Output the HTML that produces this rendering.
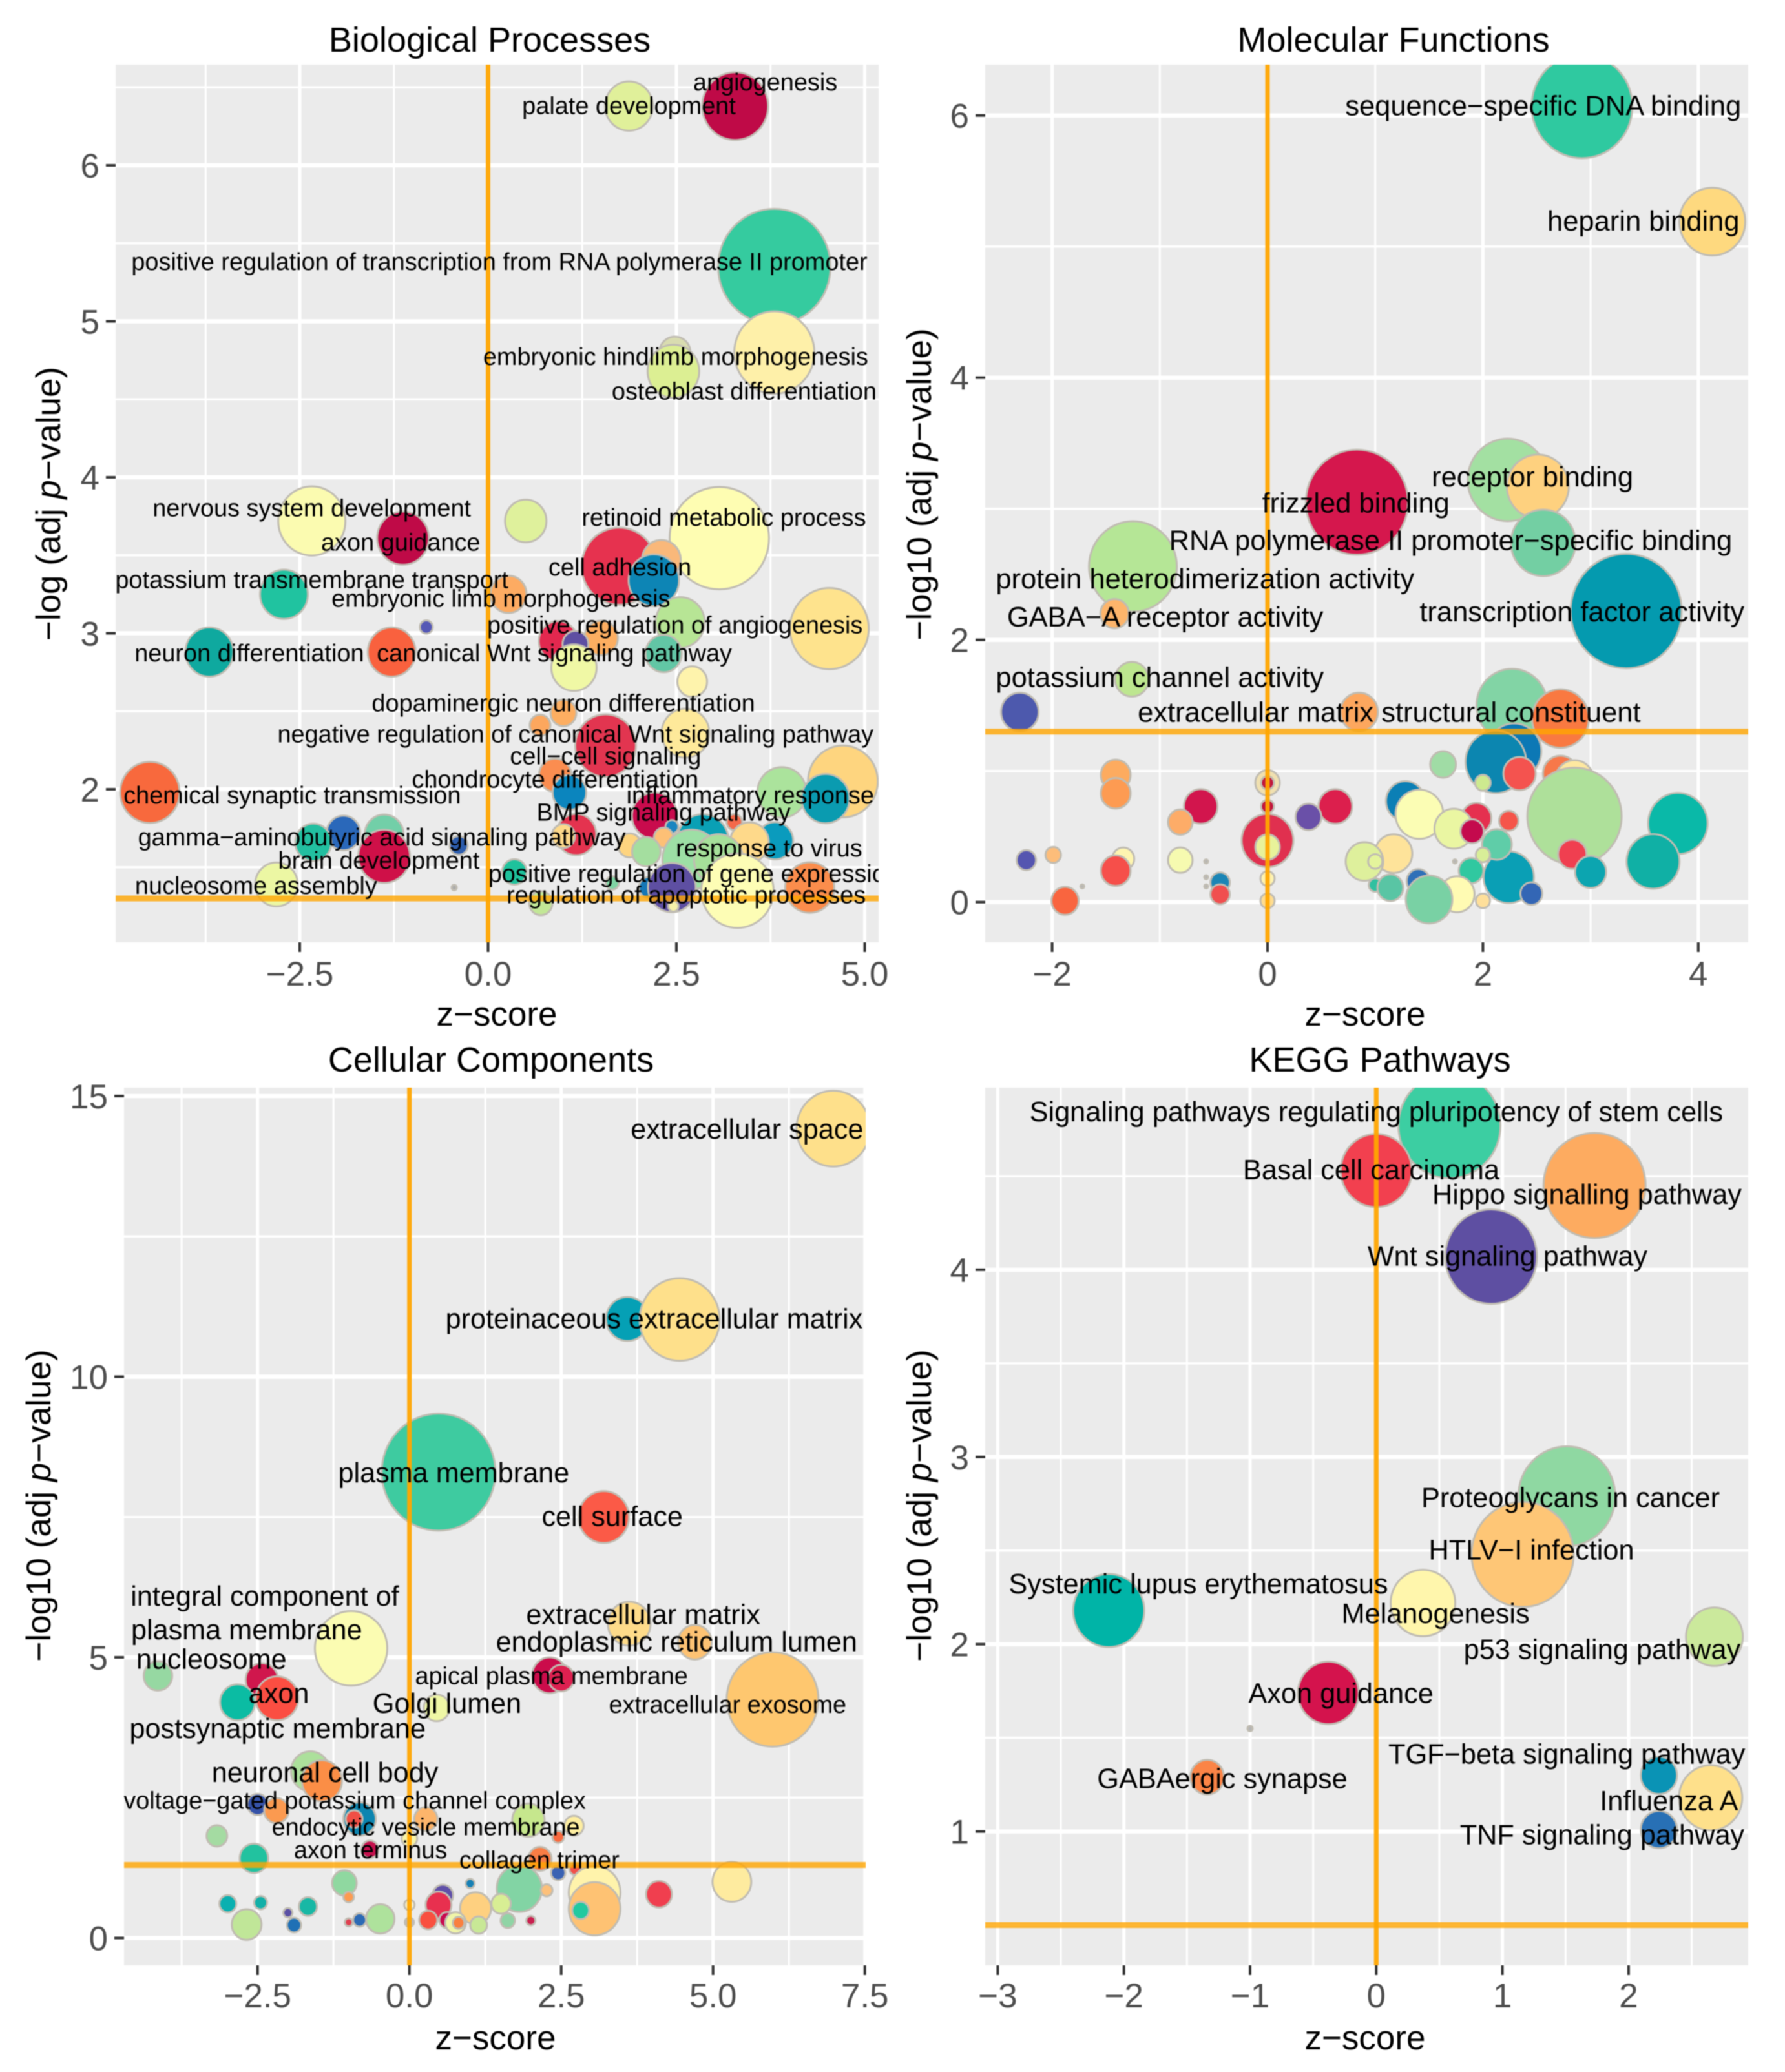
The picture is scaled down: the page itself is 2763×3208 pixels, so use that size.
<!DOCTYPE html>
<html lang="en">
<head>
<meta charset="utf-8">
<title>Enrichment bubble charts</title>
<style>
html,body{margin:0;padding:0;background:#fff;}
svg{display:block;font-family:"Liberation Sans",Arial,sans-serif;filter:blur(0.9px);}
.title{font-size:54px;fill:#000;text-anchor:middle;}
.axis-title{font-size:53px;fill:#000;text-anchor:middle;}
.tick-label{font-size:53px;fill:#4d4d4d;}
.bubble-label{fill:#000;text-anchor:middle;}
</style>
</head>
<body>
<svg id="chart" xmlns="http://www.w3.org/2000/svg" width="2763" height="3208" viewBox="0 0 2763 3208">
  <rect x="0" y="0" width="2763" height="3208" fill="#ffffff"/>
  <g id="panels"></g>
  <text class="title" x="758" y="80">Biological Processes</text>
  <text class="title" x="2157" y="80">Molecular Functions</text>
  <text class="title" x="760" y="1659">Cellular Components</text>
  <text class="title" x="2136" y="1659">KEGG Pathways</text>
  <text class="axis-title" x="769" y="1588">z−score</text>
  <text class="axis-title" x="2113" y="1588">z−score</text>
  <text class="axis-title" x="767" y="3173">z−score</text>
  <text class="axis-title" x="2113" y="3173">z−score</text>
  <text class="axis-title" transform="translate(93 780) rotate(-90)">−log (adj <tspan font-style="italic">p</tspan>−value)</text>
  <text class="axis-title" transform="translate(1441 750) rotate(-90)">−log10 (adj <tspan font-style="italic">p</tspan>−value)</text>
  <text class="axis-title" transform="translate(78 2331) rotate(-90)">−log10 (adj <tspan font-style="italic">p</tspan>−value)</text>
  <text class="axis-title" transform="translate(1441 2331) rotate(-90)">−log10 (adj <tspan font-style="italic">p</tspan>−value)</text>
</svg>
<script>
// ---------- Biological Processes ----------
const bpZ = [3.80,3.80,2.48,2.46,1.87,3.28,-2.34,-1.13,0.50,3.07,
  1.74,2.30,2.20,-2.71,0.27,2.55,-0.82,-3.70,-1.28,4.53,
  0.93,1.50,1.16,1.14,2.33,2.71,1.00,0.69,2.62,1.56,
  0.89,1.08,4.71,3.90,4.48,-4.49,2.85,3.81,3.27,3.47,
  2.21,2.44,2.33,1.88,2.10,2.76,2.70,3.06,3.31,4.27,
  2.14,2.44,2.46,1.65,0.70,0.35,-0.45,-2.81,-1.38,-1.38,
  -1.92,-2.32,-0.39,1.17,1.00];
const bpP = [5.35,4.80,4.80,4.68,6.38,6.38,3.72,3.61,3.72,3.61,
  3.43,3.47,3.34,3.25,3.25,3.07,3.04,2.88,2.88,3.03,
  2.95,2.97,2.93,2.78,2.87,2.69,2.49,2.41,2.36,2.28,
  2.09,1.98,2.05,1.98,1.94,1.98,1.67,1.67,1.79,1.66,
  1.83,1.76,1.69,1.64,1.60,1.52,1.55,1.55,1.35,1.37,
  1.37,1.37,1.25,1.40,1.27,1.47,1.37,1.39,1.71,1.57,
  1.72,1.66,1.64,1.71,1.70];
const bpCount = [87,62,24,40,37,51,52,40,32,77,
  58,30,39,37,28,38,10,37,37,61,
  30,26,20,35,28,23,20,16,37,47,
  25,26,54,38,37,46,40,28,12,30,
  35,10,15,18,22,25,45,38,56,38,
  16,37,8,10,18,19,4,33,30,40,
  26,28,14,31,18];
const bpFill = ["#35cb9f","#fef0a9","#d9dcb0","#dcef93","#e0f09a","#bf0a47","#fbfbb0","#bf0a47","#dff19c","#fefdb2",
  "#e6324f","#f9b87a","#0d85b5","#20c3a0","#fdab62","#b7e595","#5558b5","#0fa99f","#f9613e","#fee38d",
  "#e3284f","#fdae61","#5e4fa2","#f0f8a5","#62c6a5","#fef3ac","#fdae61","#fca75e","#fee99a","#e23550",
  "#fb8d50","#0b85be","#fed57f","#abe39c","#0a9bb0","#f8693d","#0aa0b5","#0a9bbd","#f4694a","#fed98a",
  "#c90b4d","#1b85c0","#fdc076","#fed47f","#a4de9f","#fdc276","#9ddfa5","#a6e09a","#fdfdb5","#fb8d4c",
  "#1577b5","#5e4fa2","#f6f2a8","#7fd4a3","#c2e796","#1ec29c","#aaaaaa","#ecf7a3","#72cfa8","#cf1048",
  "#2a68ba","#22bfa0","#2d5dad","#e4334f","#fed98a"];
const bpLabels = ["angiogenesis","palate development","positive regulation of transcription from RNA polymerase II promoter","embryonic hindlimb morphogenesis","osteoblast differentiation","nervous system development","retinoid metabolic process","axon guidance","cell adhesion","potassium transmembrane transport","embryonic limb morphogenesis","positive regulation of angiogenesis","neuron differentiation","canonical Wnt signaling pathway","dopaminergic neuron differentiation","negative regulation of canonical Wnt signaling pathway","cell−cell signaling","chondrocyte differentiation","chemical synaptic transmission","inflammatory response","BMP signaling pathway","gamma−aminobutyric acid signaling pathway","response to virus","brain development","positive regulation of gene expression","nucleosome assembly","regulation of apoptotic processes"];
const bpLabelZ = [3.68,1.87,0.15,2.49,3.40,-2.34,3.13,-1.16,1.75,-2.34,0.17,2.48,-3.17,0.88,1.00,1.16,1.56,0.89,-2.60,3.48,2.33,-1.41,3.73,-1.45,2.73,-3.08,2.63];
const bpLabelP = [6.53,6.38,5.38,4.77,4.55,3.80,3.74,3.58,3.42,3.34,3.22,3.05,2.87,2.87,2.55,2.35,2.21,2.06,1.96,1.96,1.85,1.69,1.62,1.54,1.455,1.38,1.32];
const bpLabelPt = [37.9,37.9,37.9,37.9,37.9,37.9,37.9,37.9,37.9,37.9,37.9,37.9,37.9,37.9,37.9,37.9,37.9,37.9,37.9,37.9,37.9,37.9,37.9,37.9,37.9,37.9,37.9];
const bpXTicks = [-2.5,0,2.5,5];
const bpXTickText = ["−2.5","0.0","2.5","5.0"];
const bpXMinor = [-3.75,-1.25,1.25,3.75];
const bpYTicks = [2,3,4,5,6];
const bpYTickText = ["2","3","4","5","6"];
const bpYMinor = [1.5,2.5,3.5,4.5,5.5,6.5];
const bpHLine = 1.3;

// ---------- Molecular Functions ----------
const mfZ = [2.92,4.13,2.23,2.51,2.56,0.83,-1.25,-1.42,3.33,-1.26,
  -2.30,0.85,2.27,2.29,2.12,2.72,1.63,2.72,2.85,2.34,
  2.00,2.85,3.81,3.58,2.83,3.00,2.24,2.45,2.00,2.13,
  2.00,1.89,1.28,1.41,1.94,1.73,1.90,2.24,1.17,0.90,
  1.00,1.40,1.00,1.14,1.76,1.50,-0.62,-0.81,0.63,0.38,
  -1.41,-1.41,0,0,0,0,0,0,0,-2.24,
  -1.99,-1.34,-1.41,-0.81,-0.57,-0.57,-0.57,-1.72,1.74,-0.44,-0.44,-1.88];
const mfP = [6.07,5.19,3.22,3.17,2.74,3.05,2.56,2.20,2.22,1.70,
  1.45,1.45,1.50,1.15,1.07,1.40,1.05,0.98,0.93,0.98,
  0.91,0.655,0.60,0.31,0.365,0.23,0.19,0.065,0.01,0.44,
  0.36,0.24,0.77,0.67,0.64,0.56,0.54,0.62,0.37,0.31,
  0.31,0.16,0.13,0.11,0.06,0.02,0.73,0.61,0.73,0.65,
  0.97,0.83,0.91,0.91,0.73,0.47,0.42,0.18,0.01,0.32,
  0.36,0.33,0.24,0.32,0.31,0.19,0.12,0.12,0.31,0.15,0.06,0.01];
const mfCount = [78,51,62,48,50,79,68,22,86,26,
  29,29,55,42,47,44,20,27,30,25,
  12,73,46,41,22,24,39,17,11,23,
  11,19,30,37,23,30,18,15,29,29,
  11,18,10,20,27,36,26,19,26,20,
  23,23,19,10,10,40,19,11,11,15,
  12,17,23,19,3,3,3,3,3,15,15,21];
const mfFill = ["#2fc9a0","#fed97f","#a3e0a2","#fed17f","#73cfa3","#d5174d","#b5e696","#fdb56b","#049aaf","#bde68f",
  "#4d59ad","#fda75e","#82d4a5","#0c78b5","#0c86b0","#f97941","#a0dca5","#f7784a","#fee8a0","#f4534f",
  "#cdea8f","#aee09a","#0ab9a8","#10b0a5","#f03f50","#0ca5b0","#0a9fb5","#3366b5","#fedf9a","#5fcda8",
  "#d8ee98","#30c8a0","#0b7fb5","#fbfdb4","#e5304f","#eaf6a2","#c40a4d","#f5554a","#fee39a","#def09c",
  "#e4f49c","#2f70b8","#30c0a0","#59c5a4","#fffbb3","#79d1a4","#d2154d","#fdac68","#dc1f4d","#6a50a8",
  "#fdab5f","#fd9b52","#f0e0b0","#c0143c","#c0143c","#e0304f","#e8f29a","#fef2b0","#fedc90","#5555b0",
  "#fdbd7a","#fef5b0","#f64f4a","#f6fab0","#b5b5b5","#b5b5b5","#b5b5b5","#b5b5b5","#b5b5b5","#1b85b5","#f04f4f","#f9653f"];
const mfLabels = ["sequence−specific DNA binding","heparin binding","receptor binding","frizzled binding","RNA polymerase II promoter−specific binding","protein heterodimerization activity","GABA−A receptor activity","transcription factor activity","potassium channel activity","extracellular matrix structural constituent"];
const mfLabelZ = [2.56,3.49,2.46,0.82,1.70,-0.58,-0.95,2.92,-1.00,1.13];
const mfLabelP = [6.07,5.19,3.24,3.04,2.755,2.46,2.17,2.21,1.71,1.445];
const mfLabelPt = [43.5,43.5,43.5,43.5,43.5,43.5,43.5,43.5,43.5,43.5];
const mfXTicks = [-2,0,2,4];
const mfXTickText = ["−2","0","2","4"];
const mfXMinor = [-1,1,3];
const mfYTicks = [0,2,4,6];
const mfYTickText = ["0","2","4","6"];
const mfYMinor = [1,3,5];
const mfHLine = 1.3;

// ---------- Cellular Components ----------
const ccZ = [6.98,3.59,4.45,0.48,3.20,-0.96,3.62,4.70,5.98,2.31,
  2.50,-4.14,-2.43,-2.18,-2.83,0.45,-1.63,-1.44,-2.50,-2.19,
  -0.82,-0.91,0.27,1.96,2.71,2.45,-3.17,0,-0.65,-2.56,
  2.15,2.45,2.73,3.05,3.05,2.82,5.31,4.11,1.81,2.26,
  1.51,1.09,0.55,0.48,0.31,0.62,0.76,0.81,1.14,1.62,
  2.00,0,0,-1.07,-1.00,-0.48,-2.99,-2.45,-1.67,-2.00,
  -1.90,-2.68,-1.00,-0.82,1.00];
const ccP = [14.42,11.03,11.02,8.30,7.50,5.16,5.60,5.27,4.25,4.68,
  4.63,4.67,4.60,4.27,4.20,4.10,2.97,2.80,2.38,2.27,
  2.12,2.12,2.12,2.10,2.00,1.80,1.82,1.77,1.58,1.42,
  1.41,1.16,1.23,0.81,0.52,0.49,1.00,0.78,0.88,0.85,
  0.61,0.53,0.76,0.59,0.32,0.32,0.27,0.27,0.23,0.31,
  0.31,0.59,0.28,0.98,0.73,0.34,0.61,0.63,0.56,0.45,
  0.23,0.24,0.28,0.32,0.97];
const ccCount = [57,33,62,88,39,56,33,26,71,27,
  20,22,25,33,27,20,30,31,16,19,
  25,13,18,25,15,9,16,12,13,22,
  18,11,9,40,40,13,30,20,35,9,
  15,24,16,20,14,12,16,9,13,11,
  7,8,7,19,8,22,13,10,14,7,
  11,23,6,10,7];
const ccFill = ["#fee08b","#05a0b5","#fee08b","#3ecba0","#fb5a47","#fbfcb2","#fedb8a","#fdc273","#fec76f","#cb0c4b",
  "#dd2050","#96d8a2","#d0174d","#fb4e42","#0bbca3","#eff7a5","#ace09b","#fb8e46","#3552a8","#fb9a50",
  "#0c85b0","#f04f45","#fdb56b","#c6e78d","#feeea0","#f96a3f","#a4dba2","#f8f4a8","#c4104c","#22c29f",
  "#f97d45","#3a62b3","#f0504a","#fff3ab","#fec273","#22c9a0","#feeb9f","#f03f4f","#82d4a4","#fdc07a",
  "#d8ee94","#fed080","#6050a8","#e8304f","#f9503f","#c80a4f","#f0f5a8","#f98040","#c8e896","#8fd4a5",
  "#c92050","#f5f0d0","#bbb8c0","#8fd8a0","#fd9a50","#aee29c","#0ab0b0","#12b0a8","#18b8a5","#5a50a5",
  "#2070b5","#c0e698","#e04050","#2c6ab5","#1680b5"];
const ccLabels = ["extracellular space","proteinaceous extracellular matrix","plasma membrane","cell surface","integral component of","plasma membrane","nucleosome","extracellular matrix","endoplasmic reticulum lumen","apical plasma membrane","axon","Golgi lumen","extracellular exosome","postsynaptic membrane","neuronal cell body","voltage−gated potassium channel complex","endocytic vesicle membrane","axon terminus","collagen trimer"];
const ccLabelZ = [5.56,4.03,0.73,3.34,-2.38,-2.68,-3.26,3.85,4.40,2.34,-2.15,0.62,5.24,-2.17,-1.39,-0.90,0.27,-0.64,2.14];
const ccLabelP = [14.40,11.02,8.28,7.50,6.08,5.48,4.96,5.75,5.27,4.66,4.35,4.17,4.15,3.72,2.94,2.44,1.97,1.56,1.38];
const ccLabelPt = [43.2,43.2,43.2,43.2,43.2,43.2,43.2,43.2,43.2,37.8,43.2,43.2,37.8,43.2,43.2,37.8,37.8,37.8,37.8];
const ccXTicks = [-2.5,0,2.5,5,7.5];
const ccXTickText = ["−2.5","0.0","2.5","5.0","7.5"];
const ccXMinor = [-3.75,-1.25,1.25,3.75,6.25];
const ccYTicks = [0,5,10,15];
const ccYTickText = ["0","5","10","15"];
const ccYMinor = [2.5,7.5,12.5];
const ccHLine = 1.3;

// ---------- KEGG Pathways ----------
const kgZ = [0.58,0,1.73,0.91,1.51,1.16,-2.12,0.37,2.68,-0.38,-1,-1.34,2.24,2.65,2.24];
const kgP = [4.77,4.53,4.45,4.07,2.79,2.48,2.18,2.22,2.04,1.74,1.55,1.29,1.30,1.18,1.01];
const kgCount = [79,55,79,71,75,79,55,50,44,47,4,26,28,49,28];
const kgFill = ["#3ccea2","#f2404f","#fdab60","#5e4fa2","#8fd8a2","#fec676","#00b4a7","#fff6ac","#cbe99c","#d4134d","#b5b5b5","#fb8446","#0a93b5","#fee08b","#2870b5"];
const kgLabels = ["Signaling pathways regulating pluripotency of stem cells","Basal cell carcinoma","Hippo signalling pathway","Wnt signaling pathway","Proteoglycans in cancer","HTLV−I infection","Systemic lupus erythematosus","Melanogenesis","p53 signaling pathway","Axon guidance","TGF−beta signaling pathway","GABAergic synapse","Influenza A","TNF signaling pathway"];
const kgLabelZ = [0,-0.04,1.67,1.04,1.54,1.23,-1.41,0.47,1.79,-0.28,1.51,-1.22,2.32,1.79];
const kgLabelP = [4.84,4.53,4.40,4.07,2.78,2.50,2.32,2.16,1.97,1.735,1.41,1.28,1.16,0.98];
const kgLabelPt = [43.3,43.3,43.3,43.3,43.3,43.3,43.3,43.3,43.3,43.3,43.3,43.3,43.3,43.3];
const kgXTicks = [-3,-2,-1,0,1,2];
const kgXTickText = ["−3","−2","−1","0","1","2"];
const kgXMinor = [-2.5,-1.5,-0.5,0.5,1.5,2.5];
const kgYTicks = [1,2,3,4];
const kgYTickText = ["1","2","3","4"];
const kgYMinor = [0.5,1.5,2.5,3.5,4.5];
const kgHLine = 0.5;

// ---------- Rendering ----------
const NS = "http://www.w3.org/2000/svg";
const root = document.getElementById("panels");

function mk(parent, tag, attrs, text) {
  const el = document.createElementNS(NS, tag);
  for (const k in attrs) el.setAttribute(k, attrs[k]);
  if (text !== undefined) el.textContent = text;
  parent.appendChild(el);
  return el;
}
function sizeScale(count) { return count; }

function drawPanel(p) {
  const x = z => p.x0 + z * p.kx;
  const y = v => p.y0 - v * p.ky;
  const g = mk(root, "g", {});
  
  

  const bg = mk(g, "rect", {x: p.left, y: p.top, width: p.right - p.left, height: p.bottom - p.top, fill: "#ebebeb"});
  
  

  const defs = mk(g, "defs", {});
  const clip = mk(defs, "clipPath", {id: "clip-" + p.id});
  mk(clip, "rect", {x: p.left, y: p.top, width: p.right - p.left, height: p.bottom - p.top});

  p.xMinor.forEach(v => {
    const l = mk(g, "line", {x1: x(v), x2: x(v), y1: p.top, y2: p.bottom, stroke: "#fff", "stroke-width": 3});
    
    
  });
  p.yMinor.forEach(v => {
    const l = mk(g, "line", {x1: p.left, x2: p.right, y1: y(v), y2: y(v), stroke: "#fff", "stroke-width": 3.5});
    
    
  });
  p.xTicks.forEach(v => {
    const l = mk(g, "line", {x1: x(v), x2: x(v), y1: p.top, y2: p.bottom, stroke: "#fff", "stroke-width": 5});
    
    
  });
  p.yTicks.forEach(v => {
    const l = mk(g, "line", {x1: p.left, x2: p.right, y1: y(v), y2: y(v), stroke: "#fff", "stroke-width": 6.5});
    
    
  });

  p.xTicks.forEach((v, i) => {
    const t = mk(g, "line", {x1: x(v), x2: x(v), y1: p.bottom, y2: p.bottom + 15, stroke: "#333", "stroke-width": 4});
    
    
    const s = mk(g, "text", {class: "tick-label", x: x(v), y: p.bottom + p.tickGap, "text-anchor": "middle"}, p.xTickText[i]);
    
    
  });
  p.yTicks.forEach((v, i) => {
    const t = mk(g, "line", {x1: p.left - 15, x2: p.left, y1: y(v), y2: y(v), stroke: "#333", "stroke-width": 4});
    
    
    const s = mk(g, "text", {class: "tick-label", x: p.left - 25, y: y(v) + 19, "text-anchor": "end"}, p.yTickText[i]);
    
    
  });

  const inner = mk(g, "g", {"clip-path": "url(#clip-" + p.id + ")"});
  
  

  p.z.forEach((z, i) => {
    const r = sizeScale(p.count[i]);
    const c = mk(inner, "ellipse", {cx: x(z), cy: y(p.p[i]), rx: r, ry: r * 1.03, fill: p.fill[i], stroke: "#c0bcb2", "stroke-width": 3});
    
    
  });

  const h = mk(inner, "line", {x1: p.left, x2: p.right, y1: y(p.hLine), y2: y(p.hLine), stroke: "#ffa500", "stroke-width": 9, "stroke-opacity": 0.8});
  
  
  const vl = mk(inner, "line", {x1: x(0), x2: x(0), y1: p.top, y2: p.bottom, stroke: "#ffa500", "stroke-width": 7, "stroke-opacity": 0.95});
  
  

  p.labels.forEach((txt, i) => {
    const fs = p.labelPt[i];
    const t = mk(inner, "text", {class: "bubble-label", x: x(p.labelZ[i]), y: y(p.labelP[i]) + fs * 0.32, "font-size": fs}, txt);
    
    
  });
}

drawPanel({id: "biological-processes", left: 179, right: 1360, top: 100, bottom: 1459, x0: 755.5, kx: 116.6, y0: 1705, ky: 241.5, tickGap: 67,
  z: bpZ, p: bpP, count: bpCount, fill: bpFill, labels: bpLabels, labelZ: bpLabelZ, labelP: bpLabelP, labelPt: bpLabelPt,
  xTicks: bpXTicks, xTickText: bpXTickText, xMinor: bpXMinor, yTicks: bpYTicks, yTickText: bpYTickText, yMinor: bpYMinor, hLine: bpHLine});
drawPanel({id: "molecular-functions", left: 1525, right: 2706, top: 100, bottom: 1459, x0: 1962, kx: 166.7, y0: 1396.7, ky: 203, tickGap: 67,
  z: mfZ, p: mfP, count: mfCount, fill: mfFill, labels: mfLabels, labelZ: mfLabelZ, labelP: mfLabelP, labelPt: mfLabelPt,
  xTicks: mfXTicks, xTickText: mfXTickText, xMinor: mfXMinor, yTicks: mfYTicks, yTickText: mfYTickText, yMinor: mfYMinor, hLine: mfHLine});
drawPanel({id: "cellular-components", left: 192, right: 1340, top: 1684, bottom: 3043, x0: 633.7, kx: 94, y0: 3000.5, ky: 86.9, tickGap: 65,
  z: ccZ, p: ccP, count: ccCount, fill: ccFill, labels: ccLabels, labelZ: ccLabelZ, labelP: ccLabelP, labelPt: ccLabelPt,
  xTicks: ccXTicks, xTickText: ccXTickText, xMinor: ccXMinor, yTicks: ccYTicks, yTickText: ccYTickText, yMinor: ccYMinor, hLine: ccHLine});
drawPanel({id: "kegg-pathways", left: 1525, right: 2706, top: 1684, bottom: 3043, x0: 2130.3, kx: 195.3, y0: 3125.5, ky: 289.9, tickGap: 65,
  z: kgZ, p: kgP, count: kgCount, fill: kgFill, labels: kgLabels, labelZ: kgLabelZ, labelP: kgLabelP, labelPt: kgLabelPt,
  xTicks: kgXTicks, xTickText: kgXTickText, xMinor: kgXMinor, yTicks: kgYTicks, yTickText: kgYTickText, yMinor: kgYMinor, hLine: kgHLine});
</script>
</body>
</html>
